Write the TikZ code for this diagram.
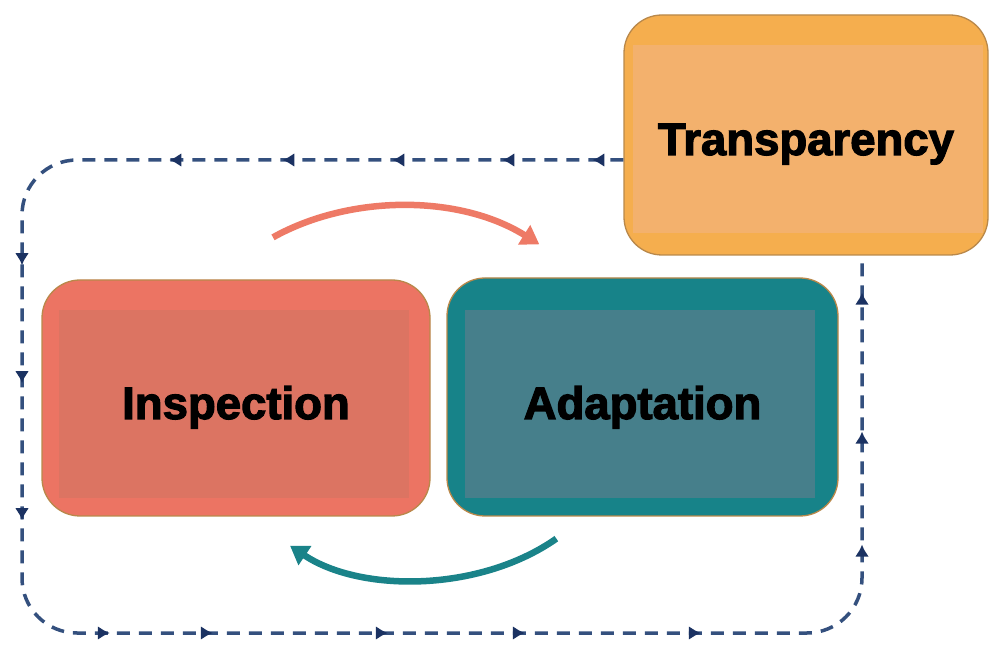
\documentclass[tikz,border=0pt]{standalone}
\usepackage{fontspec}
\setmainfont{Liberation Sans}[BoldFeatures={FakeBold=2.6}]
\usetikzlibrary{arrows.meta,decorations.markings,calc}

\definecolor{Tout}{HTML}{F5AE4E}
\definecolor{Tin}{HTML}{F3B16D}
\definecolor{Iout}{HTML}{EC7463}
\definecolor{Iin}{HTML}{DC7462}
\definecolor{Aout}{HTML}{178389}
\definecolor{Ain}{HTML}{467F8B}
\definecolor{rim}{HTML}{B9884A}
\definecolor{salmon}{HTML}{EE7A66}
\definecolor{teal}{HTML}{1A8389}
\definecolor{loopline}{HTML}{34507E}
\definecolor{loophead}{HTML}{1B3262}

\tikzset{
  box/.style={draw=rim, line width=1.3pt, rounded corners=38pt, inner sep=0pt},
  panel/.style n args={5}{path picture={
    \fill[#1, sharp corners] ([xshift=#2pt,yshift=-#4pt]path picture bounding box.north west)
      rectangle ([xshift=-#3pt,yshift=#5pt]path picture bounding box.south east);}},
  lbl/.style={font=\fontsize{45.5}{46}\selectfont\bfseries, text=black, inner sep=0pt, anchor=base},
  flowtip/.style={line width=6.5pt, -{Triangle[length=18pt,width=22pt]}},
  /pgf/decoration/looptip/.style={mark=at position #1 with {\arrow[loophead]{Latex[length=12pt,width=14pt]}}},
  loopline/.style={draw=loopline, line width=3.5pt, dash pattern=on 13pt off 9pt,
    rounded corners=55pt, postaction={decorate}},
}

\begin{document}
\begin{tikzpicture}[x=1pt,y=1pt]
\useasboundingbox (0,0) rectangle (990,645);

% the three boxes
\node[box, fill=Tout, minimum width=364pt, minimum height=240pt,
      panel={Tin}{9}{5}{30}{22}] (T) at (806,510) {};
\node[box, fill=Iout, minimum width=388pt, minimum height=236pt,
      panel={Iin}{17}{21}{30}{18}] (I) at (236,247) {};
\node[box, fill=Aout, minimum width=391pt, minimum height=238pt,
      panel={Ain}{18}{23}{32}{18}] (A) at (642.5,248) {};

\node[lbl] (Ttxt) at ([yshift=-20pt]T.center) {Transparency};
\node[lbl] (Itxt) at ([yshift=-21pt]I.center) {Inspection};
\node[lbl] (Atxt) at ([yshift=-22pt]A.center) {Adaptation};

% outer feedback loop from Transparency back into Transparency
\coordinate (loopstart) at ([yshift=-25pt]T.west);
\coordinate (loopend) at ([xshift=56pt]T.south);
\path[loopline, decoration={markings,
    looptip=31pt, looptip=121pt, looptip=231pt, looptip=341pt, looptip=454pt,
    looptip=683pt, looptip=801pt, looptip=938pt,
    looptip=1115pt, looptip=1218pt, looptip=1393pt, looptip=1530pt, looptip=1706pt,
    looptip=1932pt, looptip=2045pt, looptip=2184pt}]
  (loopstart) -- (22,485) -- (22,12) -- (862,12) -- (loopend);

% inner cycle between Inspection and Adaptation
\coordinate (s1) at ($(I.north)+(37,42)$);
\coordinate (e1) at ($(A.north west)+(93,33)$);
\draw[flowtip, salmon] (s1) .. controls +(77,43) and +(-80,50) .. (e1);

\coordinate (s2) at ($(A.south west)+(110,-22)$);
\coordinate (e2) at ($(I.south)+(54,-29)$);
\draw[flowtip, teal] (s2) .. controls +(-77,-54) and +(70,-47) .. (e2);
\end{tikzpicture}
\end{document}
